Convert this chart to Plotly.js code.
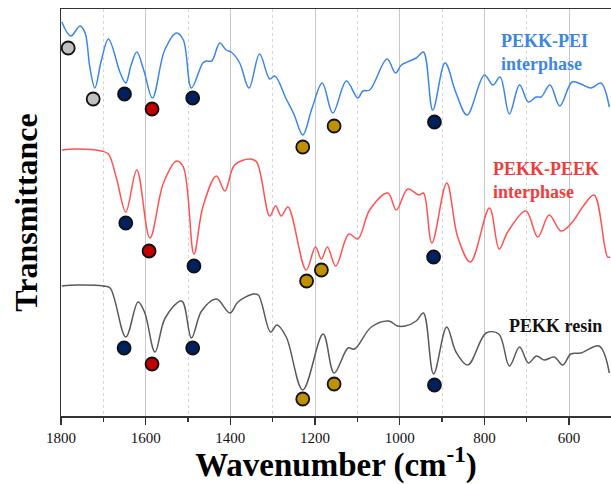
<!DOCTYPE html>
<html>
<head>
<meta charset="utf-8">
<script src="https://cdn.plot.ly/plotly-3.0.1.min.js"></script>
<style>html,body{margin:0;padding:0;background:#fff;}#chart{width:611px;height:484px;}</style>
</head>
<body>
<div id="chart"></div>
<script>
// PEKK-PEI interphase spectrum (wavenumber, transmittance a.u.)
const peiWn = [1798,1777,1755,1743,1732,1720,1705,1688,1660,1647,1635,1621,1604,1584,1555,1527,1511,1492,1465,1456,1444,1425,1410,1398,1378,1356,1331,1307,1295,1268,1250,1229,1207,1183,1158,1126,1099,1087,1071,1030,1010,996,961,944,922,893,867,841,800,780,763,741,717,696,678,666,645,622,593,572,548,525,505];
const peiT  = [39.4,38.0,39.0,38.3,34.9,32.8,35.5,37.7,34.3,33.3,35.0,36.4,34.5,31.8,36.6,38.3,37.6,32.8,35.3,35.5,35.5,37.3,36.6,36.4,35.3,32.8,36.2,33.7,34.0,31.7,30.2,28.1,30.8,33.3,30.3,33.5,31.8,32.5,32.6,35.7,34.3,35.1,35.8,36.4,30.6,35.3,32.3,30.1,34.1,33.1,33.9,30.2,33.1,31.4,31.9,31.9,33.1,31.0,33.4,33.2,32.8,33.3,30.9];

// PEKK-PEEK interphase spectrum
const peekWn = [1798,1763,1704,1688,1668,1647,1621,1590,1558,1527,1511,1486,1465,1433,1413,1390,1354,1338,1307,1293,1280,1264,1221,1199,1185,1171,1151,1120,1099,1071,1028,1008,981,955,944,924,889,863,833,788,765,745,702,674,647,619,592,568,541,509,503];
const peekT  = [26.6,26.7,26.5,26.2,23.6,20.4,24.6,17.8,23.3,25.5,24.9,16.2,20.9,24.0,22.5,25.1,25.7,25.4,20.0,21.0,20.0,20.9,14.6,16.9,15.7,16.9,15.0,18.2,17.7,20.6,22.3,20.6,22.7,22.1,22.3,17.3,23.3,17.9,15.4,20.8,16.7,18.4,20.5,17.9,20.1,18.5,19.4,20.9,22.1,15.9,15.9];

// PEKK resin spectrum
const resinWn = [1798,1763,1700,1684,1647,1618,1602,1578,1554,1515,1492,1468,1433,1401,1382,1346,1334,1305,1290,1268,1229,1181,1155,1122,1107,1067,1026,1005,987,961,944,920,889,867,839,796,766,741,717,696,677,659,635,615,596,572,529,505];
const resinT  = [13.0,13.1,13.0,12.8,7.9,11.4,10.3,6.4,9.8,11.5,7.8,10.5,11.7,10.3,11.4,12.2,12.1,8.4,9.1,7.9,2.6,8.2,4.3,6.8,6.7,8.9,9.5,9.0,9.0,9.5,10.3,4.2,8.9,6.4,5.1,8.3,8.2,5.0,6.9,5.3,6.0,5.6,5.9,5.1,6.2,6.3,7.0,4.3];

// Band markers
const bandWn    = [1783,1724,1650,1585,1489,1229,1155,918, 1647,1592,1486,1220,1185,920, 1651,1585,1489,1229,1155,918];
const bandT     = [36.8,31.7,32.2,30.7,31.8,26.9,29.0,29.4, 19.3,16.5,15.0,13.5,14.6,15.9, 6.8,5.2,6.8,1.7,3.2,3.1];
const bandGroup = ['grey','grey','navy','red','navy','gold','gold','navy', 'navy','red','navy','gold','gold','navy', 'navy','red','navy','gold','gold','navy'];
const groupColor = {grey:'#c0c0c0', navy:'#002060', red:'#c00000', gold:'#bf9000'};

const labels = ['PEKK-PEI<br>interphase','PEKK-PEEK<br>interphase','PEKK resin'];
const labelWn = [766, 785, 747];
const labelT  = [36.4, 23.6, 9.0];
const labelColor = ['#3d86e2','#f03c3c','#111111'];

const serif = "'Liberation Serif', 'Times New Roman', Times, serif";

const traces = [
  {x: peiWn, y: peiT, mode:'lines', line:{color:'#3c87e6', width:1.5, shape:'spline', smoothing:1}, hoverinfo:'skip'},
  {x: peekWn, y: peekT, mode:'lines', line:{color:'#ff5252', width:1.5, shape:'spline', smoothing:1}, hoverinfo:'skip'},
  {x: resinWn, y: resinT, mode:'lines', line:{color:'#5a5a5a', width:1.5, shape:'spline', smoothing:1}, hoverinfo:'skip'},
  {x: bandWn, y: bandT, mode:'markers', marker:{size:13, color: bandGroup.map(g=>groupColor[g]), line:{color:'#111', width:1.8}}, hoverinfo:'skip'}
];

const layout = {
  width:611, height:484,
  margin:{l:61, r:0, t:9, b:68},
  paper_bgcolor:'#fff', plot_bgcolor:'#fff',
  showlegend:false,
  font:{family:serif, color:'#000'},
  xaxis:{
    range:[1800,501], tick0:0, dtick:200,
    showgrid:true, gridcolor:'#c8c8c8', gridwidth:1,
    minor:{dtick:100, ticks:'outside', ticklen:4, tickcolor:'#333', tickwidth:1.2, showgrid:true, gridcolor:'#d6d6d6', griddash:'dot', gridwidth:1},
    ticks:'outside', ticklen:7, tickwidth:1.2, tickcolor:'#333',
    showline:true, linecolor:'#333', linewidth:1.5, mirror:true,
    zeroline:false,
    tickfont:{family:serif, size:15, color:'#111'},
    title:{text:'<b>Wavenumber (cm<sup>-1</sup>)</b>', font:{family:serif, size:33, color:'#000'}, standoff:8}
  },
  yaxis:{
    range:[0,40.7], showticklabels:false, showgrid:false, zeroline:false,
    showline:true, linecolor:'#333', linewidth:1.5, ticks:'',
    title:{text:'<b>Transmittance</b>', font:{family:serif, size:32, color:'#000'}, standoff:12}
  },
  annotations: labels.map((t,i)=>({
    x: labelWn[i], y: labelT[i], xref:'x', yref:'y', text:'<b>'+t+'</b>',
    showarrow:false, xanchor:'left', yanchor:'middle', align:'left',
    font:{family:serif, size:18, color:labelColor[i]}
  }))
};

Plotly.newPlot('chart', traces, layout, {staticPlot:true, displayModeBar:false});
</script>
</body>
</html>
